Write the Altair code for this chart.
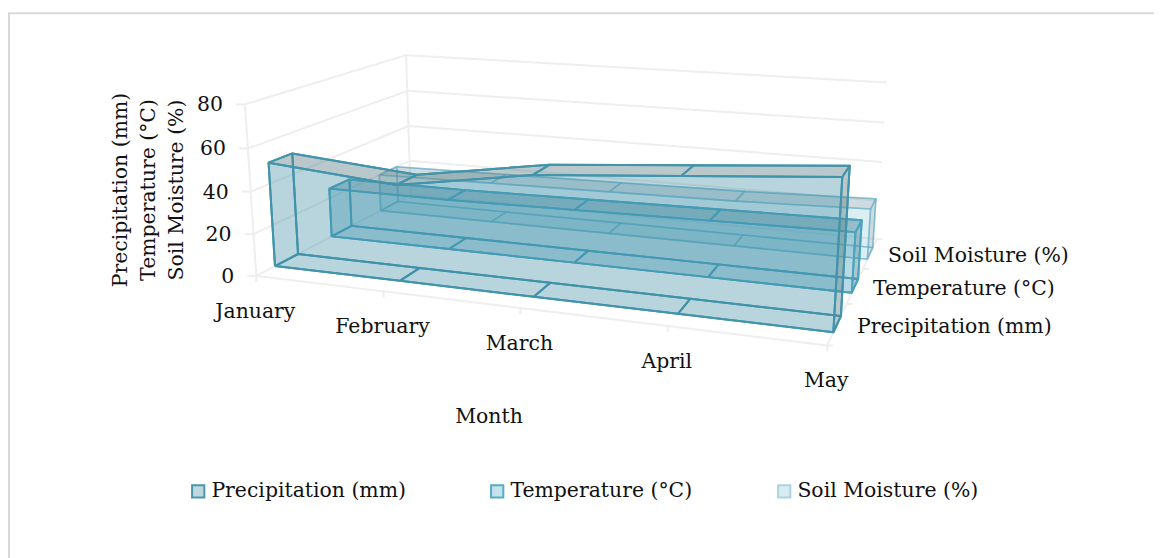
import numpy as np
import pandas as pd
import altair as alt

# ---- values
months = ["January", "February", "March", "April", "May"]
series_names = ["Precipitation (mm)", "Temperature (°C)", "Soil Moisture (%)"]
precipitation = [50, 45, 55, 60, 65]
temperature = [25, 25, 26, 27, 28]
soil_moisture = [20, 21, 22, 23, 25]
y_ticks = [0, 20, 40, 60, 80]

FONT = "DejaVu Serif"
FS = 20.4
GRID = "#eeeeee"
W, H = 1146, 550

# ---- camera of the 3-D box: world (month, depth, value) -> page pixel
camera_pairs = [
    ((0, 0, 0), (257, 277)), ((0, 0, 80), (245, 104)),
    ((4, 0, 0), (828, 345)),
    ((0, 1, 0), (411, 195)), ((0, 1, 80), (406, 55)),
    ((4, 1, 0), (877, 240)), ((4, 1, 80), (887, 83)),
    ((1, 0, 0), (383, 292)), ((3, 0, 0), (667, 326)),
    ((0, .10, 0), (275, 266)), ((0, .23, 0), (298, 253)),
    ((4, .10, 0), (833, 333)), ((4, .23, 0), (841, 315)),
    ((0, .435, 0), (332, 237)), ((4, .435, 0), (852, 293)),
    ((0, .77, 0), (380, 210)), ((4, .77, 0), (867, 258)),
]
A = []
for (m, d, v), (px, py) in camera_pairs:
    X = [m / 4, d, v / 80, 1]
    A.append(X + [0, 0, 0, 0] + [-px * c for c in X])
    A.append([0, 0, 0, 0] + X + [-py * c for c in X])
P = np.linalg.svd(np.array(A, float))[2][-1].reshape(3, 4)


def project(m, d, v):
    h = P @ np.array([m / 4, d, v / 80, 1.0])
    return float(h[0] / h[2]), float(h[1] / h[2])


# ---- faces of every extruded area
styles = [
    dict(values=precipitation, d0=.10, d1=.23, width=2.0,
         stroke="rgba(66,148,170,1)", side="rgba(60,140,165,.2)",
         top="rgba(109,126,125,.3)", legend_fill="#bfd8df", legend_stroke="#4a97ac"),
    dict(values=temperature, d0=.435, d1=.565, width=1.9,
         stroke="rgba(74,164,190,1)", side="rgba(62,151,177,.2)",
         top="rgba(70,120,135,.3)", legend_fill="#c3e2ea", legend_stroke="#56abc6"),
    dict(values=soil_moisture, d0=.77, d1=.90, width=1.6,
         stroke="rgba(90,170,195,.45)", side="rgba(120,190,210,.14)",
         top="rgba(120,140,145,.25)", legend_fill="#d8ebf0", legend_stroke="#abd4e1"),
]
rows = []
pid = 0


def face(points, fill, style):
    global pid
    pid += 1
    for i, p in enumerate(list(points) + [points[0]]):
        x, y = project(*p)
        rows.append(dict(poly=pid, i=i, x=x, y=y, fill=fill,
                         stroke=style["stroke"], w=style["width"]))


for s in reversed(styles):
    vals, d0, d1 = s["values"], s["d0"], s["d1"]
    n = len(vals)
    # back wall
    face([(k, d1, 0) for k in range(n)] + [(k, d1, vals[k]) for k in reversed(range(n))], s["side"], s)
    # floor segments
    for k in range(n - 1):
        face([(k, d0, 0), (k + 1, d0, 0), (k + 1, d1, 0), (k, d1, 0)], s["side"], s)
    # January end
    face([(0, d0, 0), (0, d1, 0), (0, d1, vals[0]), (0, d0, vals[0])], s["side"], s)
    # top segments
    for k in range(n - 1):
        face([(k, d0, vals[k]), (k + 1, d0, vals[k + 1]), (k + 1, d1, vals[k + 1]), (k, d1, vals[k])], s["top"], s)
    # May end
    face([(4, d0, 0), (4, d1, 0), (4, d1, vals[4]), (4, d0, vals[4])], s["top"], s)
    # front wall
    face([(k, d0, 0) for k in range(n)] + [(k, d0, vals[k]) for k in reversed(range(n))], s["side"], s)

poly_df = pd.DataFrame(rows)

xs = alt.Scale(domain=[8, 8 + W], range=[0, W])
ys = alt.Scale(domain=[8, 8 + H], range=[0, H])
X = alt.X("x:Q", scale=xs, axis=None)
Y = alt.Y("y:Q", scale=ys, axis=None)

# ---- grid lines of the box
g = []
for v in y_ticks:
    a, b, c = project(0, 0, v), project(0, 1, v), project(4, 1, v)
    g.append(dict(x=a[0], y=a[1], x2=b[0], y2=b[1]))
    g.append(dict(x=b[0], y=b[1], x2=c[0], y2=c[1]))
    g.append(dict(x=a[0], y=a[1], x2=a[0] - 9, y2=a[1]))
for a, b in [((0, 0, 0), (0, 0, 80)), ((0, 1, 0), (0, 1, 80)), ((0, 0, 0), (4, 0, 0)), ((4, 0, 0), (4, 1, 0))]:
    p, q = project(*a), project(*b)
    g.append(dict(x=p[0], y=p[1], x2=q[0], y2=q[1]))
for k in range(len(months)):
    p = project(k, 0, 0)
    g.append(dict(x=p[0], y=p[1], x2=p[0], y2=p[1] + 6))
for d in [0, 1 / 3, 2 / 3, 1]:
    p = project(4, d, 0)
    g.append(dict(x=p[0], y=p[1], x2=p[0] + 6, y2=p[1]))
grid = alt.Chart(pd.DataFrame(g)).mark_rule(color=GRID, strokeWidth=2).encode(
    x=X, y=Y, x2="x2:Q", y2="y2:Q")

polys = alt.Chart(poly_df).mark_line(strokeJoin="round").encode(
    x=X, y=Y, order="i:Q", detail="poly:N",
    fill=alt.Fill("fill:N", scale=None),
    stroke=alt.Stroke("stroke:N", scale=None),
    strokeWidth=alt.StrokeWidth("w:Q", scale=None),
)

# ---- texts
t = []
for k, name in enumerate(months):
    p = project(k, 0, 0)
    t.append(dict(x=p[0] - 1, y=p[1] + 36, text=name, align="center", angle=0))
for v in y_ticks:
    p = project(0, 0, v)
    t.append(dict(x=p[0] - 22, y=p[1] + 1, text=str(v), align="right", angle=0))
for name, s, dx in zip(series_names, styles, [857, 873, 888]):
    p = project(4, (s["d0"] + s["d1"]) / 2, 0)
    t.append(dict(x=dx, y=p[1] + 3, text=name, align="left", angle=0))
for name, x in zip(series_names, [121, 149, 177]):
    t.append(dict(x=x, y=190, text=name, align="center", angle=270))
t.append(dict(x=489, y=417, text="Month", align="center", angle=0))
text_df = pd.DataFrame(t)


def text_layer(align, angle):
    d = text_df[(text_df["align"] == align) & (text_df["angle"] == angle)]
    return alt.Chart(d).mark_text(font=FONT, fontSize=FS, color="#111111", align=align,
                                  baseline="middle", angle=angle).encode(x=X, y=Y, text="text:N")


texts = [text_layer("center", 0), text_layer("right", 0), text_layer("left", 0), text_layer("center", 270)]

# ---- chart frame: its right and bottom sides lie beyond the page
frame = alt.Chart(pd.DataFrame([dict(x=9, y=13.2, x2=1180, y2=580)])).mark_rect(
    fill="white", stroke="#d9d9d9", strokeWidth=2).encode(x=X, y=Y, x2="x2:Q", y2="y2:Q")

# ---- legend
legend_opts = dict(orient="none", legendX=180, legendY=473, direction="horizontal",
                   columns=3, title=None, labelFont=FONT, labelFontSize=FS, labelLimit=400,
                   labelColor="#111111", columnPadding=81, symbolType="square",
                   symbolSize=150, symbolStrokeWidth=2, labelOffset=3, symbolOpacity=1)
legend_df = pd.DataFrame(dict(series=series_names, x=[100] * 3, y=[100] * 3))
legend_layer = alt.Chart(legend_df).transform_filter("datum.x < 0").mark_square(
    size=150, filled=True, strokeWidth=2).encode(
    x=X, y=Y,
    fill=alt.Fill("series:N", scale=alt.Scale(domain=series_names, range=[s["legend_fill"] for s in styles]),
                  legend=alt.Legend(**legend_opts)),
    stroke=alt.Stroke("series:N", scale=alt.Scale(domain=series_names, range=[s["legend_stroke"] for s in styles]),
                      legend=alt.Legend(**legend_opts)),
)

chart = alt.layer(frame, grid, polys, *texts, legend_layer).resolve_scale(
    fill="independent", stroke="independent").properties(
    width=W, height=H, padding=0, autosize=alt.AutoSizeParams(type="none")
).configure_view(stroke=None)

chart.save("out.html", embed_options={"renderer": "svg", "actions": False})
